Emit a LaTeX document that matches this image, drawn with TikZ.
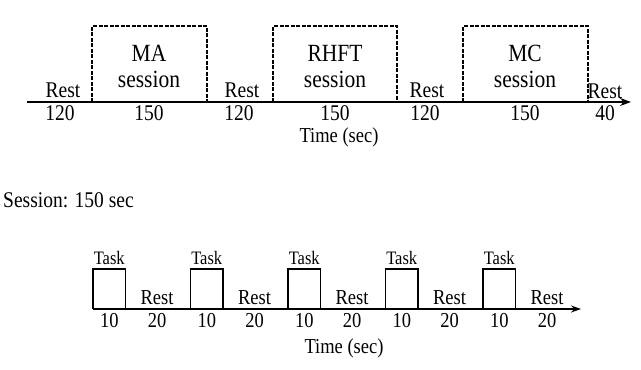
\documentclass[tikz,border=0pt]{standalone}
\usepackage{fontspec}
\setmainfont{Liberation Serif}
\usetikzlibrary{arrows.meta}
\begin{document}
\begin{tikzpicture}[x=1pt,y=-1pt,
    txt/.style={inner sep=0pt, anchor=base, yscale=1.15, transform shape},
    lbl/.style={txt, font=\fontsize{19.5}{22}\selectfont},
    big/.style={txt, font=\fontsize{21.5}{24}\selectfont},
    small/.style={txt, font=\fontsize{18.5}{20}\selectfont},
    tiny/.style={txt, font=\fontsize{16.5}{18}\selectfont},
    sess/.style={line width=2pt, dash pattern=on 4pt off 1.5pt},
    axis/.style={line width=2.2pt, -{Stealth[length=11pt,width=8pt]}}]
    \useasboundingbox (0,0) rectangle (641,370);
    % Define time axis of the whole run
    \coordinate (t0) at (27,102); \coordinate (t1) at (631,102);
    \draw[axis] (t0) -- (t1);
    % Session blocks (open at the bottom)
    \draw[sess] (92,102) -- (92,26) -- (207,26) -- (207,102);
    \draw[sess] (273,102) -- (273,26) -- (397,26) -- (397,102);
    \draw[sess] (463,102) -- (463,26) -- (588,26) -- (588,102);
    % Labels above the axis
    \node[lbl] (ra) at (63,97) {Rest}; \node[lbl] (rb) at (242,97) {Rest};
    \node[lbl] (rc) at (427,97) {Rest}; \node[lbl] (rd) at (605,98) {Rest};
    \node[big] (ma) at (149,61) {MA}; \node[big] (mas) at (149,87) {session};
    \node[big] (rh) at (335,61) {RHFT}; \node[big] (rhs) at (335,87) {session};
    \node[big] (mc) at (525,61) {MC}; \node[big] (mcs) at (525,87) {session};
    % Durations below the axis
    \node[lbl] (da) at (60,120) {120}; \node[lbl] (db) at (149,120) {150};
    \node[lbl] (dc) at (239,120) {120}; \node[lbl] (dd) at (335,120) {150};
    \node[lbl] (de) at (425,120) {120}; \node[lbl] (df) at (525,120) {150};
    \node[lbl] (dg) at (605,120) {40};
    \node[small] (time1) at (339,142) {Time (sec)};
    % Zoom into one session
    \node[lbl, anchor=base west] (head) at (3,207) {Session: 150 sec};
    \coordinate (s0) at (93,309); \coordinate (s1) at (581,309);
    \draw[line width=1.6pt, -{Stealth[length=10pt,width=7pt]}] (s0) -- (s1);
    \foreach \k in {0,...,4} {
        \pgfmathsetmacro\xa{93+97.5*\k}
        \draw[line width=1.6pt] (\xa,309) -- (\xa,269) -- (\xa+32.5,269) -- (\xa+32.5,309);
        \node[tiny] (task\k) at (\xa+16.25,264) {Task};
        \node[small] (rest\k) at (\xa+64,304) {Rest};
        \node[small] (on\k) at (\xa+16.25,327) {10};
        \node[small] (off\k) at (\xa+64,327) {20};
    }
    \node[small] (time2) at (344,353) {Time (sec)};
\end{tikzpicture}
\end{document}
